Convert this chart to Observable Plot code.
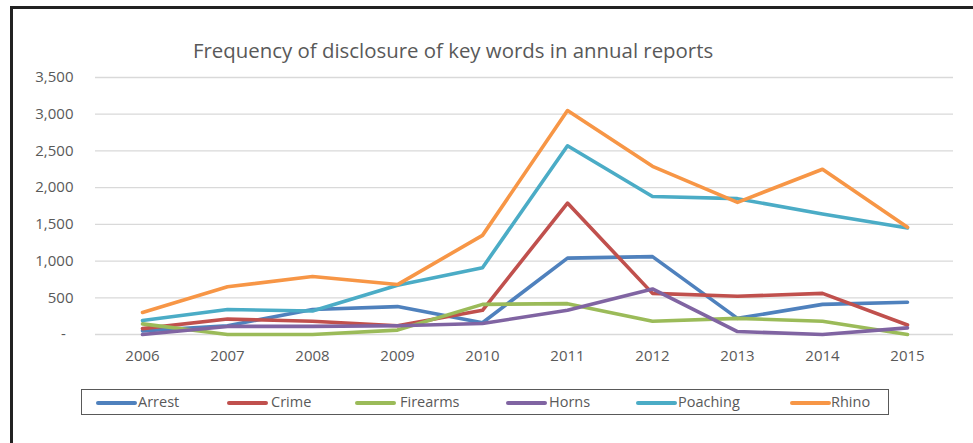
<!DOCTYPE html>
<html>
<head>
<meta charset="utf-8">
<script src="https://cdn.jsdelivr.net/npm/d3@7"></script>
<script src="https://cdn.jsdelivr.net/npm/@observablehq/plot@0.6"></script>
<style>
  html, body { margin: 0; padding: 0; background: #fff; }
  body { width: 973px; height: 443px; position: relative; overflow: hidden; font-family: "Open Sans", sans-serif; }
  #frame { position: absolute; left: 10px; top: 6px; width: 980px; height: 460px; border-left: 3px solid #222; border-top: 3px solid #222; }
  #title { position: absolute; left: 193px; top: 37px; font-size: 20.4px; color: #595959; white-space: nowrap; line-height: 26px; }
  #chart { position: absolute; left: 0; top: 0; }
  #legend { position: absolute; left: 81px; top: 389px; width: 808px; height: 26px; border: 1px solid #595959; box-sizing: border-box; }
  .item { position: absolute; top: 0; height: 24px; font-size: 14.5px; color: #595959; line-height: 24px; white-space: nowrap; }
  .item .sw { position: absolute; top: 10.5px; left: 0; width: 41px; height: 4px; border-radius: 2px; }
  .item .lb { position: absolute; top: 0; }
</style>
</head>
<body>
<div id="frame"></div>
<div id="title">Frequency of disclosure of key words in annual reports</div>
<div id="chart"></div>
<div id="legend"></div>
<script>
const years = ["2006","2007","2008","2009","2010","2011","2012","2013","2014","2015"];
const seriesNames = ["Arrest","Crime","Firearms","Horns","Poaching","Rhino"];
const colors = ["#4F81BD","#C0504D","#9BBB59","#8064A2","#4BACC6","#F79646"];
const arrest   = [50, 120, 340, 380, 160, 1040, 1060, 220, 410, 440];
const crime    = [80, 210, 180, 120, 330, 1790, 560, 520, 560, 130];
const firearms = [145, 0, 0, 60, 410, 420, 180, 220, 180, 0];
const horns    = [0, 110, 110, 120, 150, 330, 620, 40, 0, 90];
const poaching = [190, 340, 320, 670, 910, 2570, 1880, 1850, 1640, 1450];
const rhino    = [300, 650, 790, 680, 1350, 3050, 2290, 1800, 2250, 1460];
const yTicks = [0, 500, 1000, 1500, 2000, 2500, 3000, 3500];
// legend item positions (relative to page x)
const legendLineX = [96, 227, 355, 506, 636, 790];
const legendTextX = [138, 271, 400, 549, 678, 831];

const values = [arrest, crime, firearms, horns, poaching, rhino];
const data = [];
seriesNames.forEach((s, i) => years.forEach((y, j) => data.push({series: s, year: y, value: values[i][j]})));

const fmt = d3.format(",");
const plot = Plot.plot({
  width: 973,
  height: 380,
  marginLeft: 95,
  marginRight: 20,
  marginTop: 77,
  marginBottom: 46,
  style: {fontFamily: "'Open Sans', sans-serif", fontSize: "15px", color: "#595959", background: "transparent"},
  x: {type: "point", domain: years, padding: 0.5, label: null},
  y: {domain: [0, 3500], label: null},
  color: {domain: seriesNames, range: colors},
  marks: [
    Plot.gridY(yTicks, {stroke: "#d9d9d9", strokeOpacity: 1, strokeWidth: 1.3}),
    Plot.axisY(yTicks, {tickSize: 0, tickPadding: 22, tickFormat: d => d === 0 ? "-\u00a0\u00a0" : fmt(d), fill: "#595959", label: null}),
    Plot.axisX(years, {tickSize: 0, tickPadding: 16, fill: "#595959", label: null}),
    Plot.line(data, {x: "year", y: "value", z: "series", stroke: "series", strokeWidth: 3.6, strokeLinejoin: "round", strokeLinecap: "round"})
  ]
});
document.getElementById("chart").appendChild(plot);

const legend = document.getElementById("legend");
seriesNames.forEach((s, i) => {
  const it = document.createElement("div");
  it.className = "item";
  it.style.left = (legendLineX[i] - 82) + "px";
  const sw = document.createElement("div");
  sw.className = "sw";
  sw.style.background = colors[i];
  const lb = document.createElement("div");
  lb.className = "lb";
  lb.style.left = (legendTextX[i] - legendLineX[i]) + "px";
  lb.textContent = s;
  it.appendChild(sw); it.appendChild(lb);
  legend.appendChild(it);
});
</script>
</body>
</html>
